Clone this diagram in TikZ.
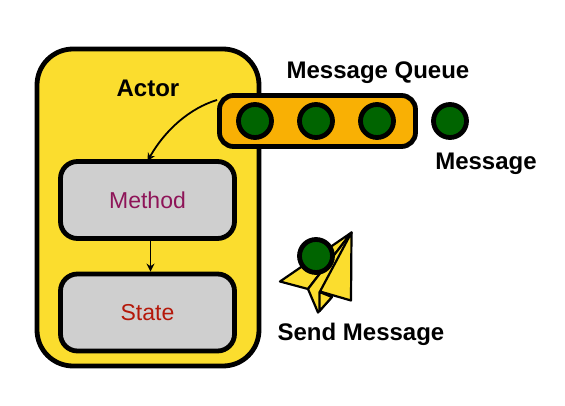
\documentclass[tikz,border=0pt]{standalone}
\usepackage{fontspec}
\setmainfont{Liberation Sans}
\usetikzlibrary{arrows.meta}
\definecolor{ay}{HTML}{FBDD2E}
\definecolor{qo}{HTML}{F9B004}
\definecolor{dg}{HTML}{006400}
\definecolor{gb}{HTML}{CFCFCF}
\definecolor{mt}{HTML}{8E1458}
\definecolor{st}{HTML}{B5180A}
\tikzset{x=1pt,y=-1pt,
 outl/.style={draw=black,line width=4.8pt,line join=round},
 lbl/.style={font=\bfseries\fontsize{24}{28}\selectfont,text=black,inner sep=0pt},
 dot/.style={circle,draw=black,line width=4.8pt,fill=dg,minimum size=33pt,inner sep=0pt},
 inbox/.style={outl,fill=gb,rounded corners=17pt,minimum width=174pt,inner sep=0pt,font=\fontsize{23}{27}\selectfont},
 link/.style={draw=black,line width=1.8pt,-{Stealth[length=8pt,width=8pt]}},
}
\begin{document}
\begin{tikzpicture}
\useasboundingbox (0,0) rectangle (565,406);
\fill[white] (0,0) rectangle (565,406);
\node[outl,fill=ay,rounded corners=36pt,minimum width=222pt,minimum height=317pt,inner sep=0pt] (actor) at (148,207.5) {};
\node[inbox,minimum height=77pt,text=mt] (method) at (147.5,200) {Method};
\node[inbox,minimum height=77pt,text=st] (state) at (147.5,312.5) {State};
\node[outl,fill=qo,rounded corners=14pt,minimum width=196pt,minimum height=51pt,inner sep=0pt] (queue) at (317.5,121) {};
\node[dot] (d1) at (255,121) {};
\node[dot] (d2) at (316,121) {};
\node[dot] (d3) at (377,121) {};
\node[dot] (d4) at (450,121) {};
\node[lbl] (actorl) at (148,88) {Actor};
\node[lbl] (ql) at (378,72.5) {Message Queue};
\node[lbl] (ml) at (486,163.5) {Message};
\node[lbl] (sl) at (361,334) {Send Message};
\coordinate (qs) at ([yshift=21pt]queue.west);
\coordinate (mt) at ([xshift=0pt,yshift=-2pt]method.north);
\draw[link] (qs) .. controls (190,108) and (165,130) .. (mt);
\draw[link] (method.south -| 150.5,0) ++(0,2pt) -- (state.north -| 150.5,0);
% paper plane
\begin{scope}[draw=black,line width=2.2pt,line join=round,fill=ay]
\filldraw (280,281.5) -- (351.5,232.5) -- (308,289) -- cycle;
\filldraw (351.5,232.5) -- (308,289) -- (318,312.5) -- (331,298) -- cycle;
\filldraw (319.5,292) -- (319.5,311) -- (332,297) -- cycle;
\filldraw (351.5,232.5) -- (320,291.5) -- (351,300.5) -- cycle;
\end{scope}
\node[dot] (d5) at (316,256) {};
\end{tikzpicture}
\end{document}
